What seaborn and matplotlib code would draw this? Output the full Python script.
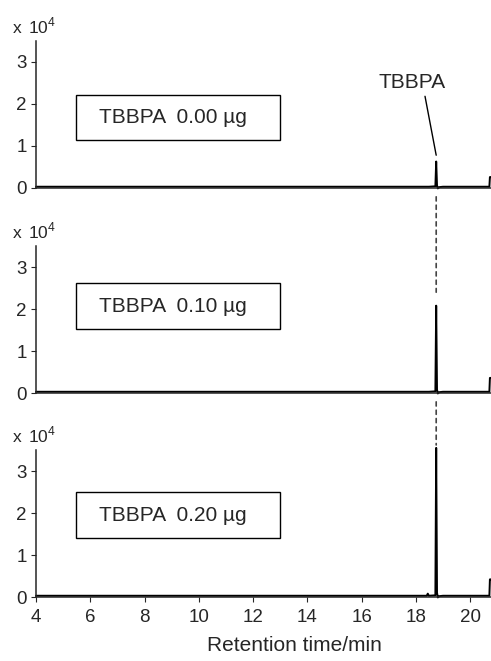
import matplotlib
matplotlib.use('Agg')
import matplotlib.pyplot as plt
from matplotlib.patches import Rectangle, ConnectionPatch
import seaborn as sns

# chromatogram points (intensity in x 10^4)
times = [4.00, 18.40, 18.44, 18.48, 18.72, 18.75, 18.78, 18.81, 18.86, 19.00, 20.71, 20.73, 20.77]
trace_000 = [0.03, 0.03, 0.03, 0.03, 0.04, 0.63, 0.06, -0.01, 0.02, 0.03, 0.03, 0.26, 0.26]
trace_010 = [0.03, 0.03, 0.03, 0.03, 0.04, 2.08, 0.08, -0.01, 0.02, 0.03, 0.03, 0.36, 0.36]
trace_020 = [0.03, 0.03, 0.08, 0.03, 0.04, 3.55, 0.10, -0.01, 0.02, 0.03, 0.03, 0.42, 0.42]
box_labels = ['TBBPA  0.00 µg', 'TBBPA  0.10 µg', 'TBBPA  0.20 µg']
peak_time = 18.75
x_ticks = [4, 6, 8, 10, 12, 14, 16, 18, 20]
y_ticks = [0, 1, 2, 3]

sns.set_style('ticks')
plt.rcParams['font.family'] = ['Liberation Sans', 'DejaVu Sans']
plt.rcParams['mathtext.fontset'] = 'custom'
plt.rcParams['mathtext.rm'] = 'Liberation Sans'

fig = plt.figure(figsize=(4.91, 6.61), dpi=100)

bottoms = [0.7156, 0.4054, 0.0968]
box_y = [(0.327, 0.306), (0.435, 0.313), (0.401, 0.313)]
traces = [trace_000, trace_010, trace_020]
axes = []

for i, (b, tr) in enumerate(zip(bottoms, traces)):
    ax = fig.add_axes([0.0733, b, 0.9267, 0.2224])
    sns.lineplot(x=times, y=tr, ax=ax, color='black', lw=1.4)
    for ln in ax.lines:
        ln.set_clip_on(False)
    ax.set_xlim(4, 20.77)
    ax.set_ylim(0, 3.5)
    ax.set_yticks(y_ticks)
    ax.set_xticks(x_ticks)
    sns.despine(ax=ax)
    for s in ['left', 'bottom']:
        ax.spines[s].set_linewidth(1.1)
    ax.tick_params(axis='y', length=3.6, width=0.8, pad=3, labelsize=13.5)
    if i < 2:
        ax.tick_params(axis='x', bottom=False, labelbottom=False)
    else:
        ax.tick_params(axis='x', length=3.6, width=0.8, pad=5, labelsize=13.5)
    ax.set_xlabel('')
    ax.set_ylabel('')

    ax.text(-0.05, 1.052, 'x', transform=ax.transAxes,
            ha='left', va='baseline', fontsize=12.5)
    ax.text(-0.018, 1.052, r'10$^{4}$', transform=ax.transAxes,
            ha='left', va='baseline', fontsize=12.5)

    y0, h = box_y[i]
    ax.add_patch(Rectangle((0.088, y0), 0.448, h, transform=ax.transAxes,
                           fill=False, edgecolor='black', lw=1.0))
    ax.text(0.30, y0 + h / 2, box_labels[i], transform=ax.transAxes,
            ha='center', va='center', fontsize=15)
    axes.append(ax)

axes[0].annotate('TBBPA', xy=(peak_time, 0.78), xytext=(17.86, 2.52),
                 ha='center', va='center', fontsize=15,
                 arrowprops=dict(arrowstyle='-', lw=1.0, color='black',
                                 relpos=(0.68, 0.0), shrinkA=1, shrinkB=0))

# dashed guides linking the peak between panels
for upper, lower, top in [(axes[0], axes[1], 2.4), (axes[1], axes[2], 3.62)]:
    con = ConnectionPatch(xyA=(peak_time, -0.21), coordsA=upper.transData,
                          xyB=(peak_time, top), coordsB=lower.transData,
                          linestyle=(0, (2.5, 2.5)), color='#444444', lw=1.2)
    fig.add_artist(con)

fig.text(294 / 491, 1 - 651 / 661, 'Retention time/min', ha='center',
         va='baseline', fontsize=15)

plt.savefig('out.png', dpi=100)
plt.close()
